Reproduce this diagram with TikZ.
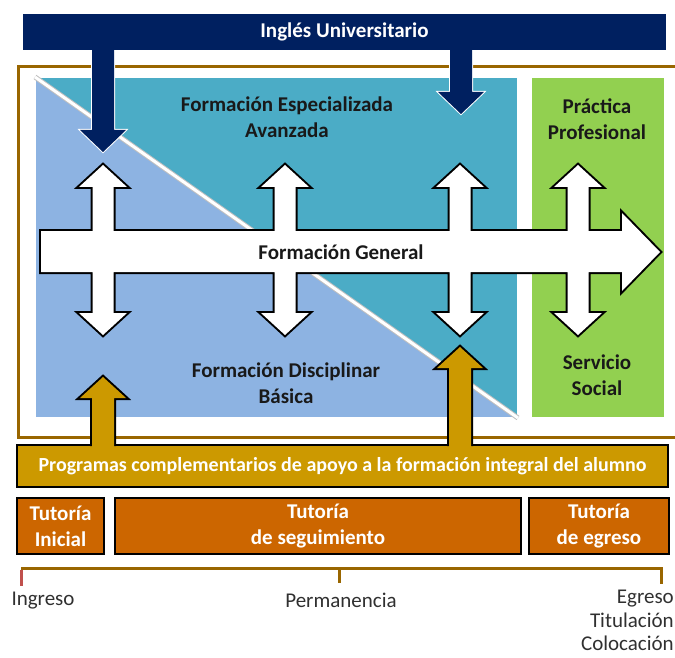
\documentclass[tikz,border=0pt]{standalone}
\usepackage{fontspec}
\setmainfont{Carlito}
\usetikzlibrary{positioning}
\definecolor{navy}{RGB}{0,32,96}
\definecolor{rim}{RGB}{153,102,0}
\definecolor{tealfill}{RGB}{75,172,198}
\definecolor{skyfill}{RGB}{141,179,226}
\definecolor{limefill}{RGB}{146,208,80}
\definecolor{goldfill}{RGB}{204,153,0}
\definecolor{rustfill}{RGB}{204,102,0}
\definecolor{ink}{RGB}{25,25,25}
\definecolor{redtick}{RGB}{192,80,77}
\newcommand{\dblarrow}[3]{(#1,#2) -- (#1+24,#2+22) -- (#1+10.5,#2+22) -- (#1+10.5,#3-22) -- (#1+24,#3-22) -- (#1,#3) -- (#1-24,#3-22) -- (#1-10.5,#3-22) -- (#1-10.5,#2+22) -- (#1-24,#2+22) -- cycle}
\newcommand{\genarrow}{(41,231) -- (622,231) -- (622,213) -- (660,252) -- (622,291) -- (622,272) -- (41,272) -- cycle}
\newcommand{\uparr}[3]{(#1-11,#3) -- (#1-11,#2+21) -- (#1-23,#2+21) -- (#1,#2) -- (#1+23,#2+21) -- (#1+11,#2+21) -- (#1+11,#3)}
\newcommand{\downarr}[3]{(#1-11,#2) -- (#1-11,#3-22) -- (#1-23,#3-22) -- (#1,#3) -- (#1+23,#3-22) -- (#1+11,#3-22) -- (#1+11,#2)}
\tikzset{
  every node/.style={font=\bfseries\fontsize{21}{26}\selectfont,align=center,text=ink},
  bar/.style={rectangle,text=white,inner sep=0pt},
  tut/.style={rectangle,fill=rustfill,draw=black,line width=2.5pt,text=white,minimum height=56,inner sep=0pt},
  plain/.style={font=\fontsize{21}{23.5}\selectfont,text=ink!90}
}
\begin{document}
\begin{tikzpicture}[x=1pt,y=-1pt]
\useasboundingbox (0,0) rectangle (675,658);
\fill[tealfill] (35,77) rectangle (518,418);
\fill[skyfill] (35,77) -- (518,418) -- (35,418) -- cycle;
\draw[white,line width=2pt] (35,77) rectangle (518,418);
\draw[gray!50,line width=5pt] (35,77) -- (518,418);
\draw[white,line width=3pt] (35,77) -- (518,418);
\fill[limefill] (531,77) rectangle (665,418);
\draw[white,line width=2pt] (531,77) rectangle (665,418);
\draw[rim,line width=3pt] (675,67) -- (18,67) -- (18,437) -- (675,437);

\node (esp) at (287,117) {Formación Especializada\\Avanzada};
\node (dis) at (286,383) {Formación Disciplinar\\Básica};
\node (pra) at (597,119) {Práctica\\Profesional};
\node (ser) at (597,375) {Servicio\\Social};

\path[draw=black,line width=4pt] \genarrow \dblarrow{103}{165}{335} \dblarrow{285}{165}{335} \dblarrow{460}{165}{335} \dblarrow{578}{165}{335};
\path[fill=white] \genarrow \dblarrow{103}{165}{335} \dblarrow{285}{165}{335} \dblarrow{460}{165}{335} \dblarrow{578}{165}{335};
\node (gen) at (341,252) {Formación General};

\node (ing) [bar,fill=navy,draw=white,line width=1.5pt,minimum width=645,minimum height=38] at (344.5,32) {Inglés Universitario};
\path[draw=white,line width=2pt] \downarr{103}{51}{152} \downarr{461}{51}{114};
\path[fill=navy] \downarr{103}{49}{152} \downarr{461}{49}{114};

\node (prog) [bar,fill=goldfill,draw=black,line width=2.5pt,minimum width=651,minimum height=42,font=\bfseries\fontsize{20}{24}\selectfont] at (342.5,466) {Programas complementarios de apoyo a la formación integral del alumno};
\path[draw=black,line width=4pt] \uparr{103}{377}{446} \uparr{460}{347}{446};
\path[fill=goldfill] \uparr{103}{377}{449} \uparr{460}{347}{449};

\node (ini) [tut,minimum width=87] at (60.5,526) {Tutoría\\Inicial};
\node (seg) [tut,minimum width=406] at (318,526) {Tutoría\\de seguimiento};
\node (egr) [tut,minimum width=140] at (599,526) {Tutoría\\de egreso};

\coordinate (t0) at (21,568);
\coordinate (t1) at (339,568);
\coordinate (t2) at (661,568);
\draw[rim,line width=3pt] (t0) -- (t2) -- ++(0,16);
\draw[rim,line width=3pt] (t1) -- ++(0,15);
\draw[redtick,line width=3pt] ([yshift=-1.5pt]t0) -- ++(0,16);

\node (ingr) [plain] at (43,601) {Ingreso};
\node (perm) [plain] at (341,600) {Permanencia};
\node (fin) [plain,align=right,anchor=north east,inner sep=0pt] at (674,590) {Egreso\\Titulación\\Colocación};
\end{tikzpicture}
\end{document}
